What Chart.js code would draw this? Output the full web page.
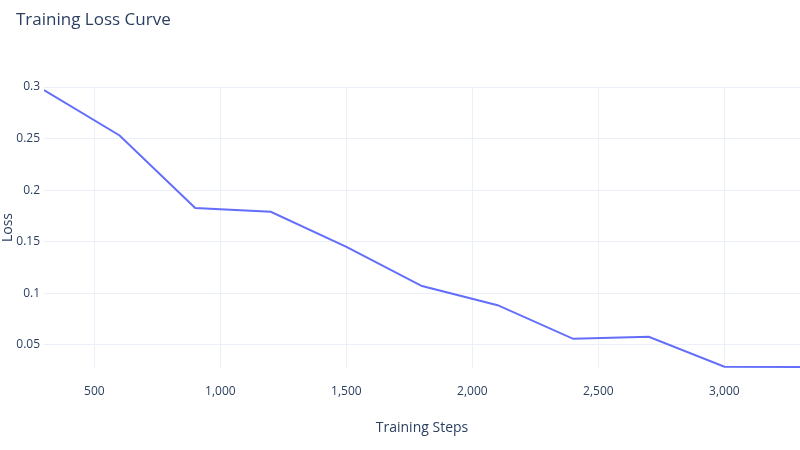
<!DOCTYPE html>
<html><head><meta charset="utf-8">
<script src="https://cdn.jsdelivr.net/npm/chart.js@4"></script>
<style>html,body{margin:0;padding:0;background:#fff}#c{width:800px;height:450px}</style>
</head><body><div id="c"><canvas id="cv" width="800" height="450"></canvas></div>
<script>
const steps = [300,600,900,1200,1500,1800,2100,2400,2700,3000,3300];
const loss = [0.297,0.253,0.1826,0.179,0.145,0.107,0.0884,0.0558,0.0577,0.0287,0.0285];
const xTicks = [500,1000,1500,2000,2500,3000];
const yTicks = [0.05,0.1,0.15,0.2,0.25,0.3];
const font = "'Open Sans', sans-serif";
const titlePlugin = {id:'t', afterDraw(c){const x=c.ctx;x.save();x.font="17px "+font;x.fillStyle='#2a3f5f';x.textBaseline='middle';x.fillText('Training Loss Curve',16,20);x.restore();}};
new Chart(document.getElementById('cv'), {
  type:'line',
  data:{datasets:[{data:steps.map((s,i)=>({x:s,y:loss[i]})),borderColor:'#636efa',borderWidth:2,pointRadius:0,tension:0,fill:false}]},
  options:{responsive:false,animation:false,
    layout:{padding:{top:87,right:0,left:0,bottom:0}},
    plugins:{legend:{display:false},tooltip:{enabled:false}},
    scales:{
      x:{type:'linear',min:300,max:3300,
        afterBuildTicks:s=>{s.ticks=xTicks.map(v=>({value:v}));},
        afterFit:s=>{s.height=82;},
        border:{display:false},
        grid:{color:'#ebf0f8',drawTicks:false},
        ticks:{padding:16,color:'#2a3f5f',font:{family:font,size:12}},
        title:{display:true,text:'Training Steps',color:'#2a3f5f',font:{family:font,size:14},padding:{top:0,bottom:14}}},
      y:{min:0.0275,max:0.3,
        afterBuildTicks:s=>{s.ticks=yTicks.map(v=>({value:v}));},
        afterFit:s=>{s.width=44;},
        border:{display:false},
        grid:{color:'#ebf0f8',drawTicks:false},
        ticks:{padding:4,color:'#2a3f5f',font:{family:font,size:12},callback:v=>String(+v.toFixed(2))},
        title:{display:true,text:'Loss',color:'#2a3f5f',font:{family:font,size:14},padding:{top:0,bottom:0}}}
    }},
  plugins:[titlePlugin]
});
</script></body></html>
